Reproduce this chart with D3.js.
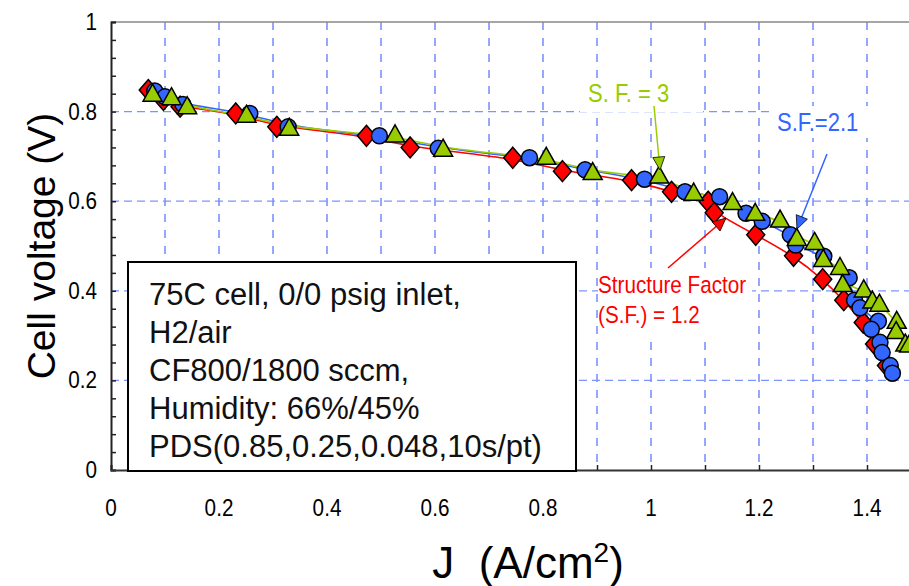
<!DOCTYPE html>
<html><head><meta charset="utf-8">
<script src="https://cdn.jsdelivr.net/npm/d3@7"></script>
<style>html,body{margin:0;padding:0;background:#fff;overflow:hidden}svg{display:block;font-family:"Liberation Sans",Arial,sans-serif}</style>
</head><body><svg id="c" width="909" height="586"></svg>
<script>
// ---- data ----
const xTicks = [0, 0.2, 0.4, 0.6, 0.8, 1, 1.2, 1.4];
const yTicks = [0, 0.2, 0.4, 0.6, 0.8, 1];
const xTickLabels = ["0", "0.2", "0.4", "0.6", "0.8", "1", "1.2", "1.4"];
const yTickLabels = ["0", "0.2", "0.4", "0.6", "0.8", "1"];

const sf12J = [0.069,0.097,0.128,0.231,0.307,0.473,0.554,0.744,0.836,0.964,1.038,1.106,1.117,1.194,1.264,1.318,1.357,1.393,1.414,1.436];
const sf12V = [0.848,0.826,0.811,0.796,0.766,0.746,0.720,0.697,0.667,0.647,0.621,0.599,0.574,0.525,0.478,0.426,0.379,0.329,0.281,0.233];

const sf21J = [0.081,0.100,0.133,0.257,0.328,0.497,0.606,0.775,0.878,0.988,1.063,1.127,1.176,1.206,1.258,1.268,1.320,1.367,1.377,1.387,1.421,1.408,1.424,1.428,1.443,1.447];
const sf21V = [0.846,0.833,0.816,0.796,0.766,0.746,0.718,0.697,0.670,0.649,0.621,0.610,0.573,0.555,0.525,0.502,0.477,0.429,0.379,0.362,0.332,0.314,0.285,0.262,0.233,0.216];

const sf3J = [0.077,0.112,0.141,0.251,0.330,0.526,0.615,0.806,0.892,1.015,1.079,1.151,1.193,1.239,1.270,1.303,1.319,1.350,1.355,1.394,1.410,1.423,1.455,1.454,1.471,1.478];
const sf3V = [0.839,0.831,0.811,0.792,0.763,0.748,0.716,0.698,0.664,0.656,0.618,0.597,0.573,0.558,0.517,0.508,0.470,0.452,0.414,0.402,0.377,0.370,0.332,0.309,0.281,0.279];

const infoLines = ["75C cell, 0/0 psig inlet,", "H2/air", "CF800/1800 sccm,", "Humidity: 66%/45%", "PDS(0.85,0.25,0.048,10s/pt)"];

// ---- chart ----
const svg = d3.select("#c");
const L = 111, T = 22, B = 470, R = 921;
const x = d3.scaleLinear().domain([0, 1.5]).range([L, R]);
const y = d3.scaleLinear().domain([0, 1]).range([B, T]);

svg.append("rect").attr("width", 909).attr("height", 586).attr("fill", "#fff");

// gridlines
const vg = d3.range(1, 15).map(i => i / 10);
svg.append("g").selectAll("line").data(vg).join("line")
  .attr("x1", d => x(d)).attr("x2", d => x(d)).attr("y1", T).attr("y2", B)
  .attr("stroke", "#2f4dff").attr("stroke-width", 1).attr("stroke-dasharray", "8,8");
svg.append("g").selectAll("line").data([0.2, 0.4, 0.6, 0.8]).join("line")
  .attr("x1", L).attr("x2", 909).attr("y1", d => y(d)).attr("y2", d => y(d))
  .attr("stroke", "#7b95ff").attr("stroke-width", 1.2).attr("stroke-dasharray", "8,5");

// top border
svg.append("line").attr("x1", L).attr("x2", 909).attr("y1", T).attr("y2", T).attr("stroke", "#888").attr("stroke-width", 1.5);

// axes
const yAx = d3.axisLeft(y).tickValues(d3.range(0, 26).map(i => i * 0.04)).tickSize(-5).tickFormat("");
svg.append("g").attr("transform", `translate(${L},0)`).call(yAx)
  .call(g => g.select(".domain").attr("stroke", "#222").attr("stroke-width", 2))
  .call(g => g.selectAll(".tick line").attr("stroke", "#222").attr("stroke-width", 1.5));
const xAx = d3.axisBottom(x).tickValues(d3.range(0, 15).map(i => i / 10)).tickSize(-5).tickFormat("");
svg.append("g").attr("transform", `translate(0,${B})`).call(xAx)
  .call(g => g.select(".domain").attr("stroke", "#333").attr("stroke-width", 2))
  .call(g => g.selectAll(".tick line").attr("stroke", "#222").attr("stroke-width", 1.5));

// tick labels
svg.append("g").selectAll("text").data(yTicks).join("text")
  .attr("transform", d => `translate(97,${y(d) + 8}) scale(0.9,1)`).attr("text-anchor", "end")
  .attr("font-size", 23).attr("fill", "#000").text((d, i) => yTickLabels[i]);
svg.append("g").selectAll("text").data(xTicks).join("text")
  .attr("transform", d => `translate(${x(d)},516) scale(0.9,1)`).attr("text-anchor", "middle")
  .attr("font-size", 23).attr("fill", "#000").text((d, i) => xTickLabels[i]);

// axis titles
svg.append("text").attr("transform", "translate(55,246) rotate(-90)").attr("text-anchor", "middle")
  .attr("font-size", 39).attr("fill", "#000").text("Cell voltage (V)");
const xt = svg.append("text").attr("x", 528).attr("y", 578).attr("text-anchor", "middle")
  .attr("font-size", 44).attr("fill", "#000");
xt.append("tspan").text("J\u00a0\u00a0(A/cm");
xt.append("tspan").attr("font-size", 28).attr("dy", -16).text("2");
xt.append("tspan").attr("dy", 16).text(")");

// marker shapes
const diamond = {draw(c) { c.moveTo(0, -10.5); c.lineTo(9, 0); c.lineTo(0, 10.5); c.lineTo(-9, 0); c.closePath(); }};
const circle = {draw(c) { c.moveTo(8, 0); c.arc(0, 0, 8, 0, 2 * Math.PI); }};
const triangle = {draw(c) { c.moveTo(0, -10); c.lineTo(9.5, 7); c.lineTo(-9.5, 7); c.closePath(); }};

const series = [
  {J: sf12J, V: sf12V, color: "#ff0000", shape: diamond},
  {J: sf21J, V: sf21V, color: "#3366ff", shape: circle},
  {J: sf3J, V: sf3V, color: "#99cc00", shape: triangle}
];
const line = d3.line().x(d => x(d[0])).y(d => y(d[1])).curve(d3.curveBasis);
series.forEach(s => {
  const pts = s.J.map((j, i) => [j, s.V[i]]).sort((a, b) => b[1] - a[1]);
  svg.append("path").attr("d", line(pts)).attr("fill", "none").attr("stroke", s.color).attr("stroke-width", 1.6);
});
series.forEach(s => {
  const pts = s.J.map((j, i) => [j, s.V[i]]);
  svg.append("g").selectAll("path").data(pts).join("path")
    .attr("transform", d => `translate(${x(d[0])},${y(d[1])})`)
    .attr("d", d3.symbol().type(s.shape))
    .attr("fill", s.color).attr("stroke", "#000").attr("stroke-width", 1.5);
});

// annotation label backgrounds
svg.append("rect").attr("x", 580).attr("y", 80).attr("width", 123).attr("height", 32).attr("fill", "#fff");
svg.append("rect").attr("x", 772).attr("y", 106).attr("width", 137).attr("height", 32).attr("fill", "#fff");
svg.append("rect").attr("x", 598).attr("y", 268).attr("width", 154).attr("height", 66).attr("fill", "#fff");

// arrows
function arrow(x1, y1, x2, y2, color) {
  svg.append("line").attr("x1", x1).attr("y1", y1).attr("x2", x2).attr("y2", y2).attr("stroke", color).attr("stroke-width", 1.5);
  const a = Math.atan2(y2 - y1, x2 - x1), len = 13, w = 6;
  const bx = x2 - len * Math.cos(a), by = y2 - len * Math.sin(a);
  const px = -Math.sin(a) * w, py = Math.cos(a) * w;
  svg.append("path").attr("d", `M${x2},${y2}L${bx + px},${by + py}L${bx - px},${by - py}Z`).attr("fill", color).attr("stroke", "#000").attr("stroke-width", 0.8);
}
arrow(654, 106, 660, 170, "#99cc00");
arrow(827, 154, 797, 229, "#3366ff");
arrow(668, 268, 726, 218, "#ff0000");

// labels
svg.append("text").attr("transform", "translate(588,102) scale(0.88,1)").attr("font-size", 25).attr("fill", "#99cc00").text("S. F. = 3");
svg.append("text").attr("transform", "translate(777,131) scale(0.88,1)").attr("font-size", 25).attr("fill", "#3366ff").text("S.F.=2.1");
svg.append("text").attr("transform", "translate(598,293) scale(0.88,1)").attr("font-size", 23.5).attr("fill", "#ff0000").text("Structure Factor");
svg.append("text").attr("transform", "translate(598,323) scale(0.88,1)").attr("font-size", 23.5).attr("fill", "#ff0000").text("(S.F.) = 1.2");

// info box
svg.append("rect").attr("x", 128).attr("y", 262).attr("width", 448).attr("height", 209).attr("fill", "#fff").attr("stroke", "#000").attr("stroke-width", 2);
svg.append("g").selectAll("text").data(infoLines).join("text")
  .attr("x", 149).attr("y", (d, i) => 305 + i * 38).attr("font-size", 31).attr("fill", "#111").text(d => d);
</script></body></html>
